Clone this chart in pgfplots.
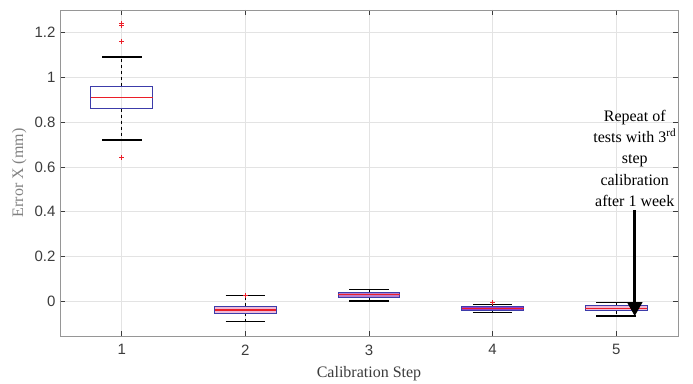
\documentclass[border=0pt]{standalone}
\usepackage{fontspec}
\setmainfont{Liberation Serif}
\newfontfamily\ticksf{Liberation Sans}
\usepackage{pgfplots}
\pgfplotsset{compat=1.18}
\usepgfplotslibrary{statistics}
\usetikzlibrary{arrows.meta}
\definecolor{mblue}{RGB}{60,60,170}
\definecolor{mred}{RGB}{235,30,40}
\definecolor{pinkfill}{RGB}{238,185,215}
\definecolor{purpfill}{RGB}{185,125,205}
\definecolor{dpurpfill}{RGB}{150,60,200}
\definecolor{axgray}{RGB}{150,150,150}
\definecolor{txtgray}{RGB}{60,60,60}
\pgfplotsset{
  boxplot/draw direction=y,
  boxplot/draw/lower whisker/.code={%
    \draw[black,dashed,line width=1pt] (boxplot box cs:\pgfplotsboxplotvalue{lower quartile},0.5) -- (boxplot box cs:\pgfplotsboxplotvalue{lower whisker},0.5);
    \draw[black,solid,line width=1.2pt] (boxplot whisker cs:\pgfplotsboxplotvalue{lower whisker},0) -- (boxplot whisker cs:\pgfplotsboxplotvalue{lower whisker},1);
  },
  boxplot/draw/upper whisker/.code={%
    \draw[black,dashed,line width=1pt] (boxplot box cs:\pgfplotsboxplotvalue{upper quartile},0.5) -- (boxplot box cs:\pgfplotsboxplotvalue{upper whisker},0.5);
    \draw[black,solid,line width=1.2pt] (boxplot whisker cs:\pgfplotsboxplotvalue{upper whisker},0) -- (boxplot whisker cs:\pgfplotsboxplotvalue{upper whisker},1);
  },
  boxplot/draw/median/.code={%
    \draw[mred,solid,line width=1.4pt] (boxplot box cs:\pgfplotsboxplotvalue{median},0) -- (boxplot box cs:\pgfplotsboxplotvalue{median},1);
  },
  boxplot/every box/.style={draw=mblue,line width=1pt},
}
\begin{document}
\begin{tikzpicture}
\begin{axis}[
  scale only axis,
  width=618pt, height=326pt,
  xmin=0.5, xmax=5.5, ymin=-0.155, ymax=1.3,
  xtick={1,2,3,4,5},
  xticklabels={1,2,3,4,5},
  ytick={0,0.2,0.4,0.6,0.8,1,1.2},
  yticklabels={0,0.2,0.4,0.6,0.8,1,1.2},
  grid=major,
  major grid style={draw=gray!22,line width=0.6pt},
  axis line style={draw=axgray,line width=0.8pt},
  tick align=inside,
  major tick length=5pt,
  tick style={draw=txtgray,line width=0.6pt},
  /pgf/number format/assume math mode=true,
  ticklabel style={font=\ticksf\fontsize{15}{18}\selectfont, text=txtgray},
  xticklabel style={yshift=-5pt},
  yticklabel style={xshift=-1pt},
  xlabel={Calibration Step},
  ylabel={Error X (mm)},
  every axis x label/.style={at={(axis description cs:0.5,-0.115)},anchor=center,font=\fontsize{16}{18}\selectfont, text=txtgray},
  every axis y label/.style={at={(axis description cs:-0.066,0.5)},anchor=center,rotate=90,font=\fontsize{16}{18}\selectfont, text=gray},
  clip=false,
]
\addplot[mblue, mark=none,
  boxplot prepared={draw position=1, median=0.91, upper quartile=0.96, lower quartile=0.86,
  upper whisker=1.09, lower whisker=0.72, box extend=0.5, whisker extend=0.32}]
  coordinates {};
\addplot[mblue, mark=none,
  boxplot/every box/.style={draw=mblue,fill=pinkfill,line width=1pt},
  boxplot prepared={draw position=2, median=-0.039, upper quartile=-0.022, lower quartile=-0.054,
  upper whisker=0.024, lower whisker=-0.092, box extend=0.5, whisker extend=0.32}]
  coordinates {};
\addplot[mblue, mark=none,
  boxplot/every box/.style={draw=mblue,fill=purpfill,line width=1pt},
  boxplot prepared={draw position=3, median=0.03, upper quartile=0.039, lower quartile=0.019,
  upper whisker=0.052, lower whisker=0.001, box extend=0.5, whisker extend=0.32}]
  coordinates {};
\addplot[mblue, mark=none,
  boxplot/every box/.style={draw=mblue,fill=dpurpfill,line width=1pt},
  boxplot prepared={draw position=4, median=-0.032, upper quartile=-0.025, lower quartile=-0.040,
  upper whisker=-0.013, lower whisker=-0.049, box extend=0.5, whisker extend=0.32}]
  coordinates {};
\addplot[mblue, mark=none,
  boxplot/every box/.style={draw=mblue,fill=pinkfill,line width=1pt},
  boxplot prepared={draw position=5, median=-0.032, upper quartile=-0.021, lower quartile=-0.043,
  upper whisker=-0.004, lower whisker=-0.066, box extend=0.5, whisker extend=0.32}]
  coordinates {};
% outliers
\addplot[only marks, mark=+, mark size=2.5pt, mred, line width=1.2pt]
  coordinates {(1,1.24) (1,1.232) (1,1.16) (1,0.64) (2,0.026) (4,-0.006)};
\draw[line width=2.6pt, -{Triangle[width=15pt,length=14pt]}] (axis cs:5.15,0.406) -- (axis cs:5.15,-0.066);
\node[align=center, anchor=north, inner sep=0pt, font=\fontsize{16}{21.3}\selectfont]
  at (axis cs:5.15,0.855) {Repeat of\\tests with 3\textsuperscript{rd}\\step\\calibration\\after 1 week};
\end{axis}
\pgfresetboundingbox
\path[use as bounding box] (-60pt,-47pt) rectangle (633pt,336pt);
\end{tikzpicture}
\end{document}
